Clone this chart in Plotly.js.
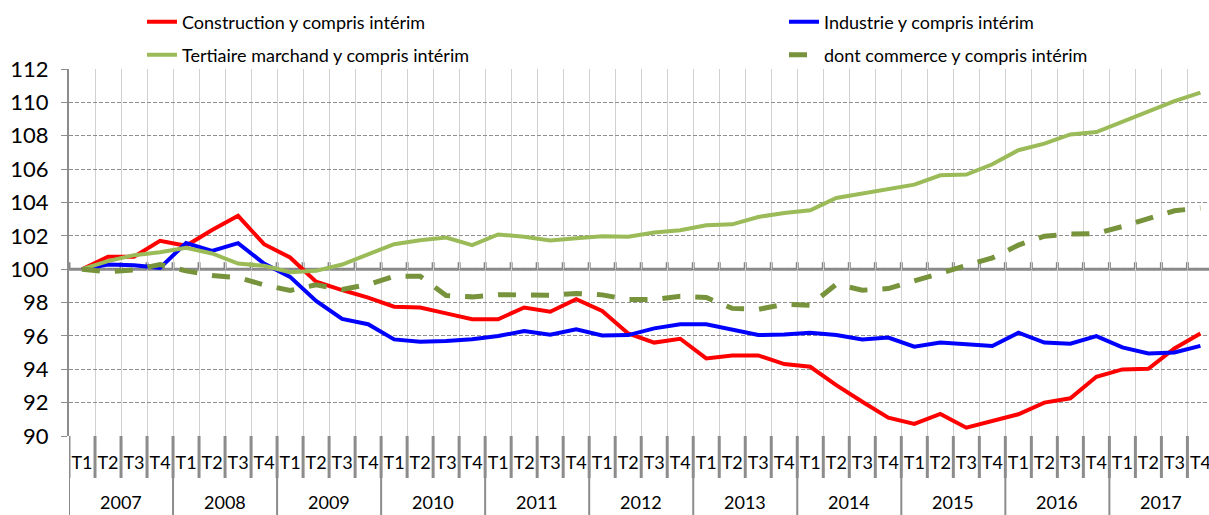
<!DOCTYPE html>
<html><head><meta charset="utf-8">
<script src="https://cdn.plot.ly/plotly-3.0.1.min.js"></script>
<style>html,body{margin:0;padding:0;background:#fff;overflow:hidden}#chart{width:1209px;height:515px}</style>
</head><body><div id="chart"></div><script>
// ---- data ----
const years = ['2007','2008','2009','2010','2011','2012','2013','2014','2015','2016','2017'];
const quarters = ['T1','T2','T3','T4'];
const seriesNames = ['Construction y compris intérim','Industrie y compris intérim','Tertiaire marchand y compris intérim','dont commerce y compris intérim'];
const construction = [100,100.75,100.75,101.7,101.4,102.35,103.2,101.5,100.7,99.25,98.75,98.3,97.75,97.7,97.35,97.0,97.0,97.7,97.45,98.2,97.5,96.15,95.6,95.83,94.65,94.83,94.83,94.31,94.15,93.05,92.05,91.1,90.72,91.32,90.5,90.9,91.3,92.0,92.26,93.55,93.99,94.03,95.25,96.15];
const industrie = [100,100.28,100.24,100.08,101.57,101.1,101.56,100.34,99.54,98.1,97.02,96.7,95.79,95.65,95.7,95.8,95.99,96.29,96.07,96.4,96.03,96.05,96.45,96.7,96.7,96.35,96.05,96.09,96.19,96.05,95.79,95.9,95.35,95.6,95.5,95.4,96.19,95.6,95.53,95.99,95.31,94.95,95.01,95.4];
const tertiaire = [100,100.48,100.84,101.02,101.28,100.94,100.34,100.2,99.82,99.9,100.28,100.9,101.5,101.74,101.9,101.44,102.08,101.94,101.72,101.86,101.98,101.94,102.2,102.34,102.63,102.69,103.13,103.37,103.53,104.27,104.53,104.77,105.07,105.63,105.67,106.29,107.13,107.53,108.08,108.22,108.82,109.42,110.08,110.58];
const commerce = [100,99.84,99.95,100.28,99.9,99.62,99.5,99.06,98.72,99.06,98.78,99.08,99.58,99.58,98.42,98.34,98.47,98.44,98.44,98.54,98.46,98.18,98.18,98.38,98.3,97.65,97.59,97.9,97.84,99.1,98.74,98.84,99.3,99.82,100.28,100.68,101.44,101.98,102.1,102.14,102.56,103.04,103.5,103.67];
const yTicks = [90,92,94,96,98,100,102,104,106,108,110,112];

// ---- build ----
const FONT = 'Lato, "Open Sans", sans-serif';
const xs = [], qLabels = [];
years.forEach((y, yi) => quarters.forEach((q, qi) => { xs.push(yi * 4 + qi); qLabels.push(q); }));
const n = xs.length;
const bounds = [];
for (let i = 0; i <= n; i++) bounds.push(i - 0.5);

const styles = [
  {color:'#FF0000', width:4, dash:'solid', legend:'legend',  lx:142, ly:22},
  {color:'#0000FF', width:4, dash:'solid', legend:'legend2', lx:784, ly:22},
  {color:'#9BBB59', width:4, dash:'solid', legend:'legend3', lx:142, ly:55},
  {color:'#77933C', width:5, dash:'18px,15px', legend:'legend4', lx:784, ly:55}
];
const values = [construction, industrie, tertiaire, commerce];
const traces = values.map((v, k) => ({
  type:'scatter', mode:'lines', x: xs, y: v, name: seriesNames[k],
  line:{color:styles[k].color, width:styles[k].width, dash:styles[k].dash},
  legend: styles[k].legend, hoverinfo:'skip'
}));

const shapes = [];
// solid axis line at 100
shapes.push({type:'line', xref:'paper', x0:0, x1:1, yref:'y', y0:100, y1:100, line:{color:'#878787', width:3}, layer:'below'});
// small tick marks on the 100 line
bounds.forEach(b => shapes.push({type:'line', xref:'x', x0:b, x1:b, yref:'y', ysizemode:'pixel', yanchor:100, y0:0, y1:7, line:{color:'#878787', width:3}, layer:'below'}));
// category separators below the plot
bounds.forEach((b, i) => {
  shapes.push({type:'line', xref:'x', x0:b, x1:b, yref:'paper', ysizemode:'pixel', yanchor:0, y0:0, y1:-42, line:{color:'#8c8c8c', width:3}, layer:'above'});
  if (i % 4 === 0) shapes.push({type:'line', xref:'x', x0:b, x1:b, yref:'paper', ysizemode:'pixel', yanchor:0, y0:-42, y1:-80, line:{color:'#8c8c8c', width:2}, layer:'above'});
});

const annotations = years.map((y, yi) => ({
  text: y, xref:'x', x: yi * 4 + 1.5, yref:'paper', y:0, yshift:-66, yanchor:'middle',
  showarrow:false, font:{family:FONT, size:18, color:'#000'}
}));

const legendBase = {orientation:'h', xref:'container', yref:'container', xanchor:'left', yanchor:'middle',
  font:{family:FONT, size:18, color:'#000'}, bgcolor:'rgba(0,0,0,0)', borderwidth:0, itemwidth:30};

const layout = {
  width:1209, height:515,
  margin:{l:69, r:0, t:69, b:79, autoexpand:false},
  paper_bgcolor:'#fff', plot_bgcolor:'#fff',
  font:{family:FONT, color:'#000'},
  showlegend:true,
  xaxis:{
    range:[-0.5, 43.33], tickmode:'array', tickvals:xs, ticktext:qLabels,
    showgrid:false, zeroline:false, showline:false, ticks:'',
    ticklabelstandoff:14, ticklabeloverflow:'allow',
    tickfont:{family:FONT, size:18, color:'#000'},
    minor:{tickmode:'array', tickvals:bounds, showgrid:true, gridcolor:'#d0d0d0', gridwidth:1, ticks:''},
    fixedrange:true
  },
  yaxis:{
    range:[90, 112], tickmode:'array', tickvals:yTicks,
    showgrid:true, gridcolor:'#8f8f8f', gridwidth:1, griddash:'4px,2px',
    zeroline:false, showline:true, linecolor:'#8c8c8c', linewidth:2,
    ticks:'outside', ticklen:6, tickcolor:'#8c8c8c', tickwidth:1,
    ticklabelstandoff:8,
    tickfont:{family:FONT, size:22, color:'#000'},
    fixedrange:true
  },
  shapes: shapes,
  annotations: annotations
};
styles.forEach(s => {
  layout[s.legend] = Object.assign({}, legendBase, {x: s.lx / 1209, y: 1 - s.ly / 515});
});

Plotly.newPlot('chart', traces, layout, {displayModeBar:false, staticPlot:true});
</script></body></html>
